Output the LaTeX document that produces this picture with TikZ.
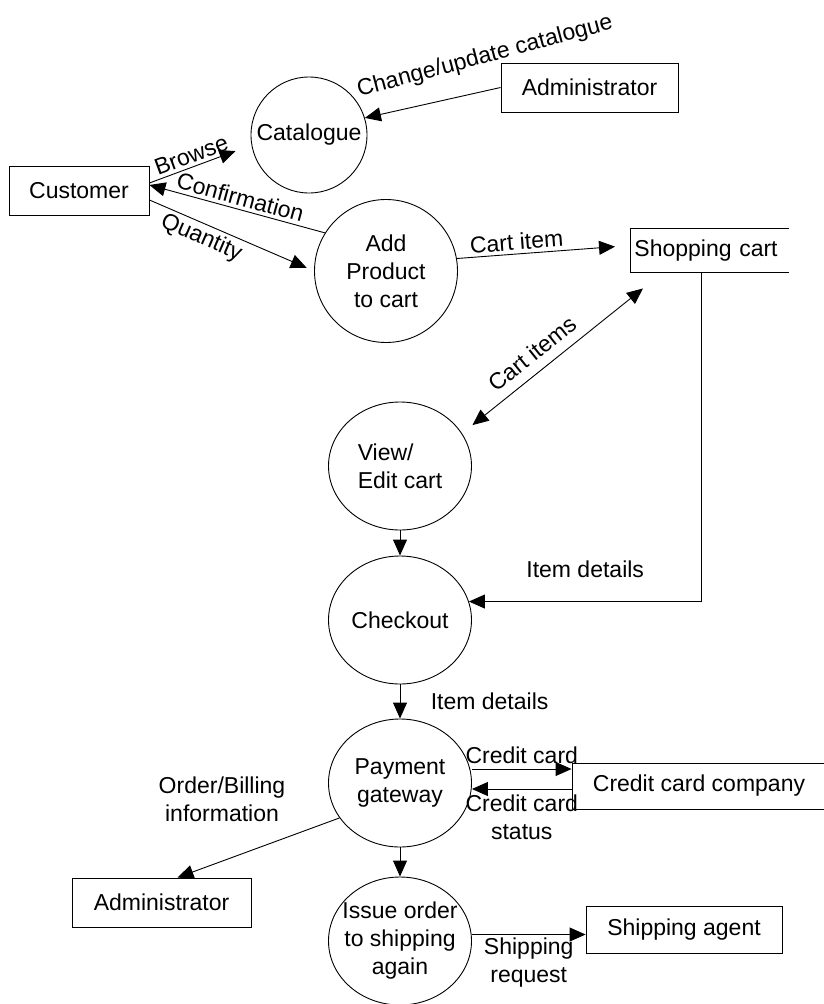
\documentclass[tikz,border=0pt]{standalone}
\usepackage{fontspec}
\setmainfont{Liberation Sans}
\usepackage{tikz}
\usetikzlibrary{shapes.geometric,arrows.meta}
\tikzset{process/.style={draw,ellipse,inner sep=-14pt,minimum width=143pt,
        minimum height=128pt,align=center},
    entity/.style={draw,rectangle,minimum height=49pt},
    store/.style={rectangle,minimum height=43pt,text width=150pt,inner sep=4pt,align=left},
    flow/.style={-{Triangle[length=16pt,width=14pt]}},
    both/.style={{Triangle[length=16pt,width=14pt]}-{Triangle[length=16pt,width=14pt]}}}

\begin{document}
\begin{tikzpicture}[x=1pt,y=-1pt,line width=0.9pt,
        every node/.style={font=\fontsize{23}{28}\selectfont}]
    \useasboundingbox (0,0) rectangle (823,1004);
    \node[entity,minimum width=140pt] (cust) at (79,191) {Customer};
    \node[process,minimum width=116pt,minimum height=116pt] (cat) at (309,135) {Catalogue};
    \node[entity,minimum width=177pt] (admin) at (589.5,87.5) {Administrator};
    \node[process,minimum height=143pt] (add) at (386,271) {Add\\Product\\to cart};
    \node[store,anchor=west] (cart) at (630,250.5) {Shopping cart};
    \node[process,align=left] (view) at (400,466) {View/\\Edit cart};
    \node[process] (check) at (400,620) {Checkout};
    \node[process] (pay) at (400,783) {Payment\\gateway};
    \node[entity,minimum width=254pt,minimum height=46pt] (bank) at (699,786) {Credit card company};
    \node[entity,minimum width=179pt] (admin2) at (161.5,902.5) {Administrator};
    \node[process] (issue) at (400,941) {Issue order\\to shipping\\again};
    \node[entity,minimum width=196pt,minimum height=47pt] (ship) at (684,929.5) {Shipping agent};
    \node[rotate=15] (chg) at (485,57) {Change/update catalogue};
    \node[align=center] (bill) at (222,799) {Order/Billing\\information};

    \draw (cart.north east) -- (cart.north west) -- (cart.south west) -- (cart.south east);
    \draw[flow,shorten >=17pt] ([yshift=8pt]cust.east) -- node[sloped,above,pos=.45] {Browse} (cat.190);
    \draw[flow] (admin.west) -- (cat.17);
    \draw[flow] (add.148) -- node[sloped,above] {Confirmation} ([yshift=6pt]cust.east);
    \draw[flow,shorten >=8pt] ([yshift=-9pt]cust.east) -- node[sloped,below,pos=.35] {Quantity} (add.180);
    \draw[flow,shorten >=15pt] (add.10) -- node[sloped,above,pos=.35] {Cart item} ([yshift=5pt]cart.west);
    \draw[both] ([xshift=12pt,yshift=6pt]view.30) -- node[sloped,above=6pt,pos=.42] {Cart items}
        ([xshift=13pt,yshift=-16pt]cart.south west);
    \draw[flow] ([xshift=-8pt]cart.south) |- node[above=20pt,pos=.75] {Item details} (check.15);
    \draw[flow] (view) -- (check);
    \draw[flow] (check) -- node[right=27pt] {Item details} (pay);
    \draw[flow] ([yshift=17pt]bank.west -| pay.east) -- node[above=2pt] {Credit card} ([yshift=17pt]bank.west);
    \draw[flow] ([yshift=-3pt]bank.west) -- node[below=2pt,align=center] {Credit card\\status}
        ([yshift=-3pt]bank.west -| pay.east);
    \draw[flow] (pay.210) -- ([xshift=16pt]admin2.north);
    \draw[flow] (pay) -- (issue);
    \draw[flow] ([yshift=-5pt]ship.west -| issue.east) -- node[below=0pt,align=center] {Shipping\\request}
        ([yshift=-5pt]ship.west);
\end{tikzpicture}
\end{document}
